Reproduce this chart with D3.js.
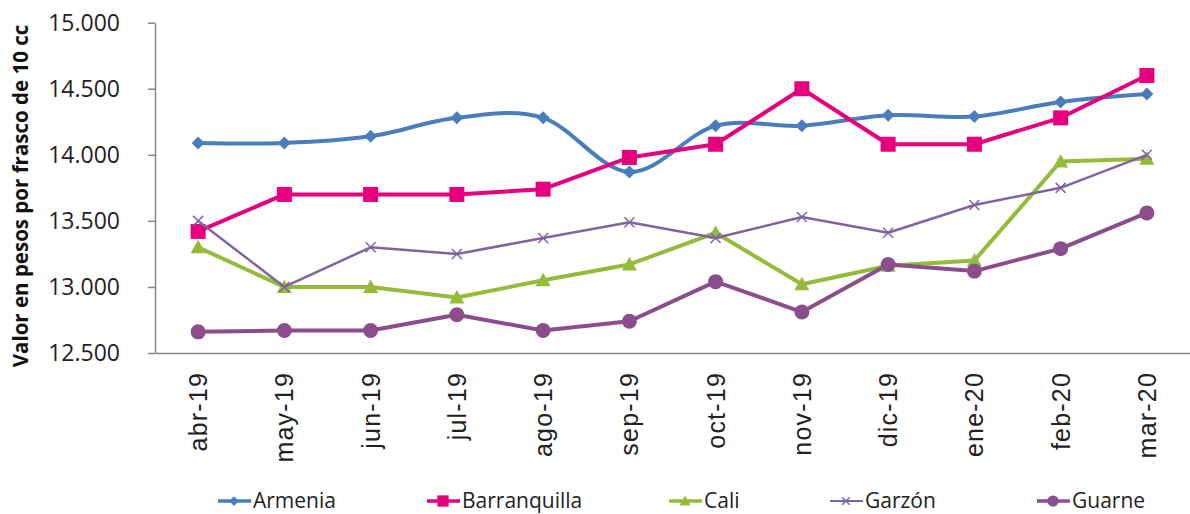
<!DOCTYPE html>
<html><head><meta charset="utf-8">
<script src="https://cdn.jsdelivr.net/npm/d3@7"></script>
<style>body{margin:0;background:#fff}svg{display:block}</style>
</head><body>
<svg id="c" width="1190" height="514"></svg>
<script>
const categories = ["abr-19","may-19","jun-19","jul-19","ago-19","sep-19","oct-19","nov-19","dic-19","ene-20","feb-20","mar-20"];
const armenia = [14090,14090,14140,14280,14280,13870,14220,14220,14300,14290,14400,14460];
const barranquilla = [13420,13700,13700,13700,13740,13980,14080,14500,14080,14080,14280,14600];
const cali = [13300,13000,13000,12920,13050,13170,13410,13020,13160,13200,13950,13970];
const garzon = [13500,13000,13300,13250,13370,13490,13370,13530,13410,13620,13750,14000];
const guarne = [12660,12670,12670,12790,12670,12740,13040,12810,13170,13120,13290,13560];
const yTicks = [12500,13000,13500,14000,14500,15000];
const seriesNames = ["Armenia","Barranquilla","Cali","Garzón","Guarne"];

const series = [
  {name:seriesNames[0], values:armenia, color:"#4a7ebb", width:4, marker:"diamond", smooth:true},
  {name:seriesNames[1], values:barranquilla, color:"#e6007e", width:4, marker:"square"},
  {name:seriesNames[2], values:cali, color:"#94bb3a", width:4, marker:"triangle"},
  {name:seriesNames[3], values:garzon, color:"#8064a2", width:2.5, marker:"x"},
  {name:seriesNames[4], values:guarne, color:"#8b4e8c", width:4, marker:"circle"}
];

const svg = d3.select("#c");
const L=155, R=1190, T=22.7, B=353;
const x = d3.scaleBand().domain(categories).range([L,R]);
const y = d3.scaleLinear().domain([12500,15000]).range([B,T]);

// y axis
const ya = svg.append("g").attr("transform",`translate(${L},0)`)
  .call(d3.axisLeft(y).tickValues(yTicks).tickSize(7).tickSizeOuter(0).tickFormat(v=>d3.format(",.3f")(v/1000).replace(/,/g,"")));
ya.select(".domain").attr("stroke","#868686").attr("stroke-width",1.5);
ya.selectAll(".tick line").attr("stroke","#868686").attr("stroke-width",1.5);
ya.selectAll(".tick text").attr("font-family","'Open Sans', sans-serif").attr("font-size","23px").attr("fill","#222").attr("x",-35);

// x axis
const xa = svg.append("g").attr("transform",`translate(0,${B})`)
  .call(d3.axisBottom(x).tickSize(0).tickSizeOuter(0));
xa.select(".domain").attr("stroke","#868686").attr("stroke-width",1.5);
xa.selectAll(".tick text").attr("font-family","'Liberation Sans', Arial, sans-serif").attr("font-size","25px").attr("fill","#222")
  .attr("letter-spacing","1.2px")
  .attr("transform","rotate(-90)").attr("text-anchor","end").attr("x",-19).attr("y",0).attr("dy","0.36em");

// y title
svg.append("text").attr("transform",`translate(28,196) rotate(-90)`)
  .attr("text-anchor","middle").attr("font-family","'Open Sans', sans-serif").attr("font-weight","bold")
  .attr("font-size","20.5px").attr("fill","#111").text("Valor en pesos por frasco de 10 cc");

function drawMarker(g, type, color, cx, cy, scale){
  scale = scale||1;
  if(type==="diamond"){
    const s=6.5*scale;
    g.append("path").attr("d",`M${cx},${cy-s}L${cx+s},${cy}L${cx},${cy+s}L${cx-s},${cy}Z`).attr("fill",color);
  } else if(type==="square"){
    const s=7.5*scale;
    g.append("rect").attr("x",cx-s).attr("y",cy-s).attr("width",2*s).attr("height",2*s).attr("fill",color);
  } else if(type==="triangle"){
    const s=7.5*scale;
    g.append("path").attr("d",`M${cx},${cy-s}L${cx+s},${cy+s*0.8}L${cx-s},${cy+s*0.8}Z`).attr("fill",color);
  } else if(type==="x"){
    const s=5*scale;
    g.append("path").attr("d",`M${cx-s},${cy-s}L${cx+s},${cy+s}M${cx-s},${cy+s}L${cx+s},${cy-s}`).attr("stroke",color).attr("stroke-width",1.5).attr("fill","none");
  } else if(type==="circle"){
    g.append("circle").attr("cx",cx).attr("cy",cy).attr("r",7.5*scale).attr("fill",color);
  }
}

const cxOf = c => x(c)+x.bandwidth()/2;
series.forEach(s=>{
  const g = svg.append("g");
  const line = d3.line().x((d,i)=>cxOf(categories[i])).y(d=>y(d))
    .curve(s.smooth ? d3.curveCardinal.tension(0) : d3.curveLinear);
  g.append("path").datum(s.values).attr("d",line).attr("fill","none")
    .attr("stroke",s.color).attr("stroke-width",s.width).attr("stroke-linejoin","round");
  s.values.forEach((v,i)=>drawMarker(g,s.marker,s.color,cxOf(categories[i]),y(v)));
});

// legend
const legX = [218,427,669,830,1037];
const legY = 501;
series.forEach((s,i)=>{
  const g = svg.append("g");
  g.append("line").attr("x1",legX[i]).attr("x2",legX[i]+33).attr("y1",legY).attr("y2",legY)
    .attr("stroke",s.color).attr("stroke-width",s.width===4?3.5:2);
  drawMarker(g,s.marker,s.color,legX[i]+16,legY,0.75);
  g.append("text").attr("x",legX[i]+35).attr("y",legY).attr("dy","0.35em")
    .attr("font-family","'Open Sans',sans-serif").attr("font-size","21px").attr("fill","#222").text(s.name);
});
</script>
</body></html>
